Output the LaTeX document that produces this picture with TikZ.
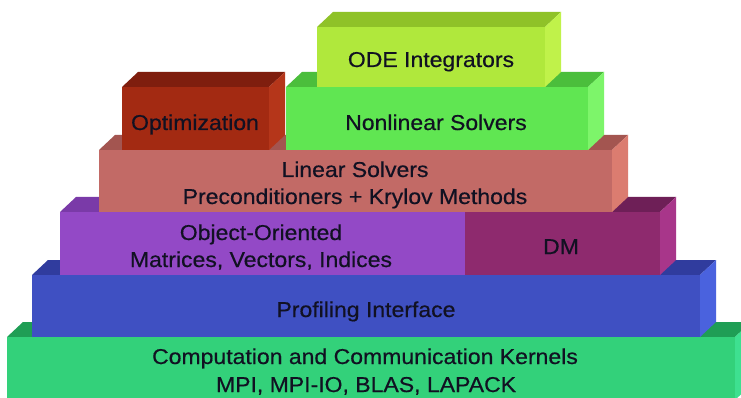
\documentclass[tikz,border=0pt]{standalone}
\usepackage{fontspec}
\setmainfont[FakeStretch=1.07,FakeBold=0.5]{Liberation Sans}

% face colours: front, top (darker), side (lighter)
\definecolor{kernF}{HTML}{33D17A}\definecolor{kernT}{HTML}{1F9E55}\definecolor{kernS}{HTML}{3EE090}
\definecolor{profF}{HTML}{3F50C2}\definecolor{profT}{HTML}{303C9E}\definecolor{profS}{HTML}{4A62DE}
\definecolor{ooF}{HTML}{9349C6}\definecolor{ooT}{HTML}{7A3AA8}\definecolor{ooS}{HTML}{9E52D2}
\definecolor{dmF}{HTML}{8E2A6E}\definecolor{dmT}{HTML}{6E1F57}\definecolor{dmS}{HTML}{A8368A}
\definecolor{linF}{HTML}{C26A66}\definecolor{linT}{HTML}{A35550}\definecolor{linS}{HTML}{DB7C70}
\definecolor{optF}{HTML}{A32A12}\definecolor{optT}{HTML}{7F1E0E}\definecolor{optS}{HTML}{B5361A}
\definecolor{nlF}{HTML}{60E652}\definecolor{nlT}{HTML}{4BBE3C}\definecolor{nlS}{HTML}{7DF56A}
\definecolor{odeF}{HTML}{B0E83C}\definecolor{odeT}{HTML}{8FC228}\definecolor{odeS}{HTML}{C0F24A}
\definecolor{ink}{HTML}{111122}

% one 3D slab: #1 left, #2 right, #3 front top, #4 front bottom, #5-#7 front/top/side colours
\newcommand\slab[7]{%
  \fill[#6] (#1,#3) -- ({#1+16},{#3-15}) -- ({#2+16},{#3-15}) -- (#2,#3) -- cycle;
  \fill[#7] (#2,#3) -- ({#2+16},{#3-15}) -- ({#2+16},{#4-15}) -- (#2,#4) -- cycle;
  \fill[#5] (#1,#3) rectangle (#2,#4);
}

\begin{document}
\begin{tikzpicture}[x=1pt,y=-1pt,
  lbl/.style={font=\fontsize{21.5}{25}\selectfont, text=ink, anchor=base, inner sep=0pt}]
\useasboundingbox (0,0) rectangle (741,398);
\clip (0,0) rectangle (741,398);
\fill[white] (0,0) rectangle (741,398);

% stack of layers, bottom to top
\slab{7}{735}{337}{400}{kernF}{kernT}{kernS}
\slab{32}{700}{275}{337}{profF}{profT}{profS}
\slab{60}{465}{212}{275}{ooF}{ooT}{ooS}
\slab{465}{660}{212}{275}{dmF}{dmT}{dmS}
\slab{99}{612}{150}{212}{linF}{linT}{linS}
\slab{286}{588}{87}{150}{nlF}{nlT}{nlS}
\slab{122}{269}{87}{150}{optF}{optT}{optS}
\slab{317}{545}{27}{87}{odeF}{odeT}{odeS}

% labels
\node[lbl] (ode)   at (431,67)  {ODE Integrators};
\node[lbl] (nl)    at (436,130) {Nonlinear Solvers};
\node[lbl] (opt)   at (195,130) {Optimization};
\node[lbl] (lin1)  at (355,177) {Linear Solvers};
\node[lbl] (lin2)  at (355,204) {Preconditioners + Krylov Methods};
\node[lbl] (oo1)   at (261,240) {Object-Oriented};
\node[lbl] (oo2)   at (261,267) {Matrices, Vectors, Indices};
\node[lbl] (dm)    at (561,254) {DM};
\node[lbl] (prof)  at (366,317) {Profiling Interface};
\node[lbl] (kern1) at (365,364) {Computation and Communication Kernels};
\node[lbl] (kern2) at (366,392) {MPI, MPI-IO, BLAS, LAPACK};
\end{tikzpicture}
\end{document}
